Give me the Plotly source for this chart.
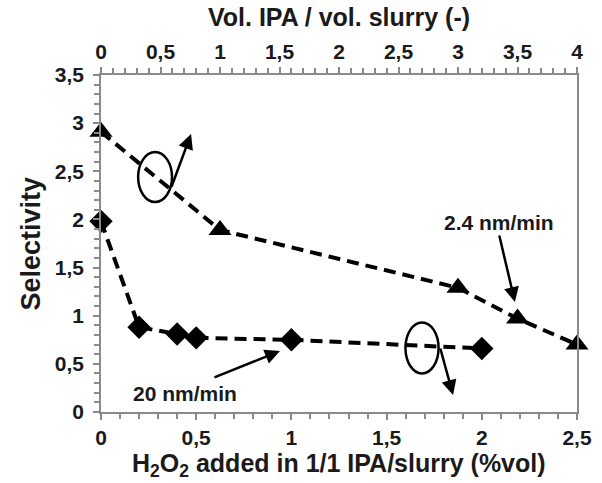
import plotly.graph_objects as go

# Data
h2o2_pct = [0, 0.2, 0.4, 0.5, 1.0, 2.0]
sel_20nm = [1.98, 0.88, 0.81, 0.77, 0.75, 0.66]

ipa_ratio = [0, 1, 3, 3.5, 4]
sel_24nm = [2.91, 1.89, 1.29, 0.97, 0.70]

bottom_ticks = [0, 0.5, 1, 1.5, 2, 2.5]
top_ticks = [0, 0.5, 1, 1.5, 2, 2.5, 3, 3.5, 4]
y_ticks = [0, 0.5, 1, 1.5, 2, 2.5, 3, 3.5]

FONT = "Liberation Sans, Arial, sans-serif"
AXC = "#8a8a8a"
TXT = "#1a1a1a"

fig = go.Figure()
fig.add_trace(go.Scatter(
    x=h2o2_pct, y=sel_20nm, mode="lines+markers",
    line=dict(color="black", width=4, dash="12px,7px"),
    marker=dict(symbol="diamond", size=18, color="black"),
    cliponaxis=False, xaxis="x", yaxis="y", showlegend=False))
fig.add_trace(go.Scatter(
    x=ipa_ratio, y=sel_24nm, mode="lines+markers",
    line=dict(color="black", width=4, dash="12px,7px"),
    marker=dict(symbol="triangle-up", size=20, color="black"),
    cliponaxis=False, xaxis="x2", yaxis="y", showlegend=False))

tickfont = dict(family=FONT, size=21, color=TXT, weight="bold")
titlefont = dict(family=FONT, size=25, color=TXT, weight="bold")
minor = dict(dtick=0.1, ticks="outside", ticklen=5, tickcolor=AXC, tickwidth=1.5)

fig.update_layout(
    width=602, height=483,
    margin=dict(l=101, r=25, t=75, b=71),
    paper_bgcolor="white", plot_bgcolor="white",
    separators=", ",
    xaxis=dict(range=[0, 2.5], tickvals=bottom_ticks, ticks="outside", ticklen=6,
               tickcolor=AXC, tickwidth=1.5, showline=True, linecolor=AXC, linewidth=1.5,
               showgrid=False, zeroline=False, tickfont=tickfont, minor=minor,
               automargin=False),
    xaxis2=dict(range=[0, 4], tickvals=top_ticks, overlaying="x", side="top",
                ticks="outside", ticklen=6, tickcolor=AXC, tickwidth=1.5,
                showline=True, linecolor=AXC, linewidth=1.5, showgrid=False, zeroline=False,
                tickfont=tickfont, minor=minor, automargin=False),
    yaxis=dict(range=[0, 3.5], tickvals=y_ticks, ticks="outside", ticklen=6,
               tickcolor=AXC, tickwidth=1.5, showline=True, linecolor=AXC, linewidth=1.5,
               showgrid=False, zeroline=False, tickfont=tickfont, mirror=True,
               ticklabelstandoff=5, minor=minor, automargin=False),
)

# Axis titles
fig.add_annotation(x=0.5, y=-0.157, xref="paper", yref="paper",
                   text="H<sub>2</sub>O<sub>2</sub> added in 1/1 IPA/slurry (%vol)",
                   showarrow=False, font=titlefont, xanchor="center", yanchor="middle")
fig.add_annotation(x=0.5, y=1.172, xref="paper", yref="paper",
                   text="Vol. IPA / vol. slurry (-)",
                   showarrow=False, font=titlefont, xanchor="center", yanchor="middle")
fig.add_annotation(x=-0.149, y=0.5, xref="paper", yref="paper", text="Selectivity",
                   textangle=-90, showarrow=False,
                   font=dict(family=FONT, size=27, color=TXT, weight="bold"),
                   xanchor="center", yanchor="middle")

# Ellipses marking which axis each series belongs to
fig.add_shape(type="circle", xref="x", yref="y", x0=0.195, x1=0.373, y0=2.18, y1=2.70,
              line=dict(color="black", width=2.5))
fig.add_shape(type="circle", xref="x", yref="y", x0=1.599, x1=1.773, y0=0.40, y1=0.93,
              line=dict(color="black", width=2.5))

arrow = dict(showarrow=True, arrowhead=2, arrowsize=1.2, arrowwidth=2.5, arrowcolor="black",
             axref="x", ayref="y", xref="x", yref="y", text="")
fig.add_annotation(x=0.473, y=2.887, ax=0.368, ay=2.326, **arrow)
fig.add_annotation(x=1.849, y=0.177, ax=1.780, ay=0.675, **arrow)
fig.add_annotation(x=0.940, y=0.633, ax=0.588, ay=0.353, **arrow)
fig.add_annotation(x=2.174, y=1.142, ax=2.090, ay=1.848, **arrow)

lab = dict(family=FONT, size=21, color=TXT, weight="bold")
fig.add_annotation(x=0.441, y=0.187, xref="x", yref="y", text="20 nm/min",
                   showarrow=False, font=lab)
fig.add_annotation(x=2.09, y=1.97, xref="x", yref="y", text="2.4 nm/min",
                   showarrow=False, font=lab)

fig.write_html("out.html", config={"displayModeBar": False},
               post_script="document.body.style.margin='0';")
